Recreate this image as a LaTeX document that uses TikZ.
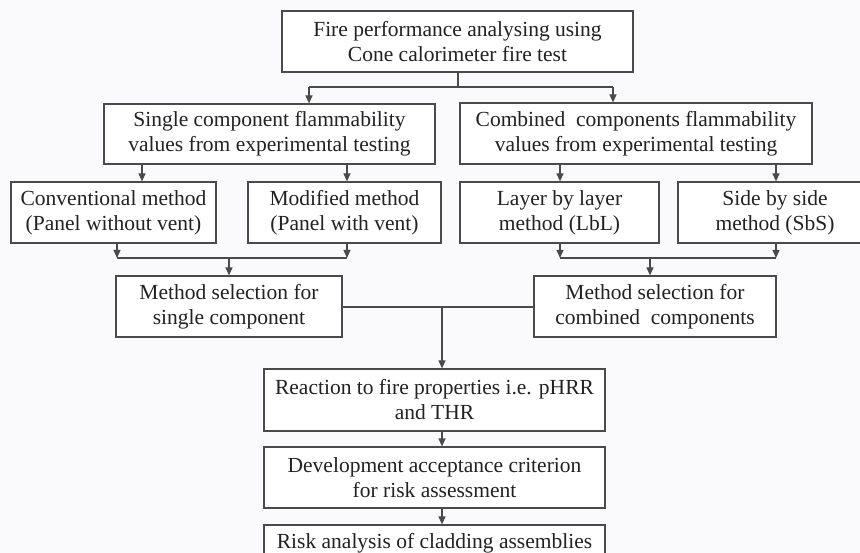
\documentclass[tikz,border=0pt]{standalone}
\usepackage{fontspec}
\setmainfont{Liberation Serif}
\usetikzlibrary{arrows.meta}
\definecolor{bgc}{HTML}{FAFAFC}
\definecolor{linec}{HTML}{4A4A4A}
\definecolor{txtc}{HTML}{222222}
\begin{document}
\begin{tikzpicture}[x=1pt,y=-1pt,
  box/.style={draw=linec,line width=1.2pt,fill=white,inner sep=0pt,align=center,
    text=txtc,font=\fontsize{21.5}{25}\selectfont},
  conn/.style={draw=linec,line width=1.2pt},
  arr/.style={conn,-{Triangle[length=8pt,width=7pt]}}]
\useasboundingbox[fill=bgc] (0,0) rectangle (860,553);
% nodes
\node[box,minimum width=351pt,minimum height=61pt] (top) at (457.5,41.5)
  {Fire performance analysing using\\Cone calorimeter fire test};
\node[box,minimum width=331pt,minimum height=60pt] (single) at (269.5,134)
  {Single component flammability\\values from experimental testing};
\node[box,minimum width=352pt,minimum height=61pt] (comb) at (636,133.5)
  {Combined\ \ components flammability\\values from experimental testing};
\node[box,minimum width=205pt,minimum height=61pt] (conv) at (113.5,212.5)
  {Conventional method\\(Panel without vent)};
\node[box,minimum width=193pt,minimum height=61pt] (mod) at (344.5,212.5)
  {Modified method\\(Panel with vent)};
\node[box,minimum width=199pt,minimum height=61pt] (lbl) at (559.5,212.5)
  {Layer by layer\\method (LbL)};
\node[box,minimum width=194pt,minimum height=61pt] (sbs) at (775,212.5)
  {Side by side\\method (SbS)};
\node[box,minimum width=226pt,minimum height=61pt] (msel1) at (229,306.5)
  {Method selection for\\single component};
\node[box,minimum width=242pt,minimum height=61pt] (msel2) at (655,306.5)
  {Method selection for\\combined\ \ components};
\node[box,minimum width=341pt,minimum height=62pt] (react) at (434.5,400)
  {Reaction to fire properties i.e. pHRR\\and THR};
\node[box,minimum width=341pt,minimum height=61pt] (dev) at (434.5,477.5)
  {Development acceptance criterion\\for risk assessment};
\node[box,minimum width=341pt,minimum height=61pt] (risk) at (434.5,555.5)
  {Risk analysis of cladding assemblies\\[4pt]\mbox{}};
% coordinates
\coordinate (j1) at (458,87);
\coordinate (j2) at (229,258);
\coordinate (j3) at (650,258);
\coordinate (j4) at (442,307);
% connectors
\draw[conn] (458,0 |- top.south) -- (j1);
\draw[conn] (309,0 |- j1) -- (613,0 |- j1);
\draw[arr] (309,0 |- j1) -- (309,0 |- single.north);
\draw[arr] (613,0 |- j1) -- (613,0 |- comb.north);
\draw[arr] (142,0 |- single.south) -- (142,0 |- conv.north);
\draw[arr] (347,0 |- single.south) -- (347,0 |- mod.north);
\draw[arr] (560,0 |- comb.south) -- (560,0 |- lbl.north);
\draw[arr] (776,0 |- comb.south) -- (776,0 |- sbs.north);
\draw[arr] (117,0 |- conv.south) -- (117,0 |- j2);
\draw[arr] (347,0 |- mod.south) -- (347,0 |- j2);
\draw[conn] (117,0 |- j2) -- (347,0 |- j2);
\draw[arr] (j2) -- (msel1.north);
\draw[arr] (560,0 |- lbl.south) -- (560,0 |- j3);
\draw[arr] (776,0 |- sbs.south) -- (776,0 |- j3);
\draw[conn] (560,0 |- j3) -- (776,0 |- j3);
\draw[arr] (j3) -- (650,0 |- msel2.north);
\draw[conn] (msel1.east |- j4) -- (msel2.west |- j4);
\draw[arr] (j4) -- (442,0 |- react.north);
\draw[arr] (442,0 |- react.south) -- (442,0 |- dev.north);
\draw[arr] (442,0 |- dev.south) -- (442,0 |- risk.north);
\end{tikzpicture}
\end{document}
